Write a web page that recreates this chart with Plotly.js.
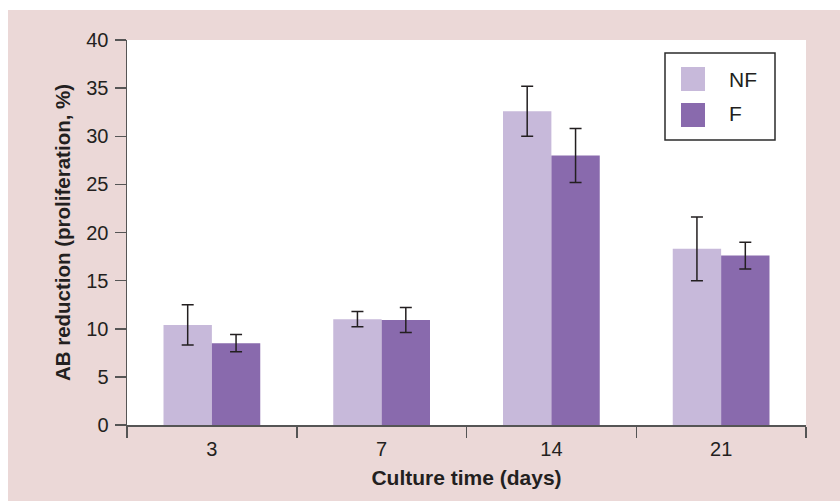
<!DOCTYPE html>
<html>
<head>
<meta charset="utf-8">
<script src="https://cdn.plot.ly/plotly-3.0.1.min.js"></script>
<style>html,body{margin:0;padding:0;background:#fff;}#chart{width:840px;height:501px;}</style>
</head>
<body>
<div id="chart"></div>
<script>
var categories = ["3", "7", "14", "21"];
var seriesNames = ["NF", "F"];
var nfValues = [10.4, 11.0, 32.6, 18.3];
var nfErrors = [2.1, 0.8, 2.6, 3.3];
var fValues = [8.5, 10.9, 28.0, 17.6];
var fErrors = [0.9, 1.3, 2.8, 1.4];
var yTickValues = [0, 5, 10, 15, 20, 25, 30, 35, 40];

var W = 840, H = 501;
var M = {l: 127, r: 34, t: 40, b: 76};
var pw = W - M.l - M.r, ph = H - M.t - M.b;
function px(x) { return (x - M.l) / pw; }
function py(y) { return (H - M.b - y) / ph; }

var colNF = "#c7b9da", colF = "#896aad";
var ink = "#231f20";
var errStyle = {type: "data", visible: true, color: "#231f20", thickness: 1.5, width: 6};
var fam = "Liberation Sans, Arial, sans-serif";

var traces = [
  {type: "bar", name: seriesNames[0], x: categories, y: nfValues,
   marker: {color: colNF}, error_y: Object.assign({array: nfErrors}, errStyle), showlegend: false},
  {type: "bar", name: seriesNames[1], x: categories, y: fValues,
   marker: {color: colF}, error_y: Object.assign({array: fErrors}, errStyle), showlegend: false}
];

var shapes = [
  {type: "rect", xref: "paper", yref: "paper", layer: "below",
   x0: px(-5), x1: px(8), y0: py(H + 5), y1: py(-5), fillcolor: "#ffffff", line: {width: 0}},
  {type: "rect", xref: "paper", yref: "paper", layer: "below",
   x0: px(-5), x1: px(W + 5), y0: py(10), y1: py(-5), fillcolor: "#ffffff", line: {width: 0}},
  {type: "rect", xref: "paper", yref: "paper",
   x0: px(665), x1: px(775), y0: py(140), y1: py(53), fillcolor: "rgba(0,0,0,0)", line: {color: "#2b2b2b", width: 1.5}},
  {type: "rect", xref: "paper", yref: "paper",
   x0: px(681), x1: px(705), y0: py(91), y1: py(67), fillcolor: colNF, line: {width: 0}},
  {type: "rect", xref: "paper", yref: "paper",
   x0: px(681), x1: px(705), y0: py(127), y1: py(103), fillcolor: colF, line: {width: 0}}
];

var annotations = [
  {xref: "paper", yref: "paper", x: px(727), y: py(79), xanchor: "left", yanchor: "middle",
   text: seriesNames[0], showarrow: false, font: {family: fam, size: 21, color: ink}},
  {xref: "paper", yref: "paper", x: px(727), y: py(114), xanchor: "left", yanchor: "middle",
   text: seriesNames[1], showarrow: false, font: {family: fam, size: 21, color: ink}}
];

var layout = {
  width: W, height: H,
  margin: M,
  paper_bgcolor: "#ebd8d7",
  plot_bgcolor: "#ffffff",
  font: {family: fam, size: 20, color: ink},
  barmode: "group",
  bargap: 0.43,
  bargroupgap: 0,
  showlegend: false,
  xaxis: {
    type: "category",
    tickson: "boundaries",
    ticks: "outside", ticklen: 11, tickwidth: 1.5, tickcolor: "#555",
    ticklabelstandoff: 5,
    showline: true, linecolor: "#555", linewidth: 1.5,
    showgrid: false, zeroline: false,
    tickfont: {family: fam, size: 20, color: ink},
    title: {text: "<b>Culture time (days)</b>", font: {family: fam, size: 21, color: ink}, standoff: 12}
  },
  yaxis: {
    range: [0, 40],
    tickvals: yTickValues,
    ticks: "outside", ticklen: 11, tickwidth: 1.5, tickcolor: "#555",
    ticklabelstandoff: 2,
    showline: true, linecolor: "#555", linewidth: 1.5,
    showgrid: false, zeroline: false,
    tickfont: {family: fam, size: 20, color: ink},
    title: {text: "<b>AB reduction (proliferation, %)</b>", font: {family: fam, size: 20.5, color: ink}, standoff: 10}
  },
  shapes: shapes,
  annotations: annotations
};

Plotly.newPlot("chart", traces, layout, {displayModeBar: false, staticPlot: true});
</script>
</body>
</html>
